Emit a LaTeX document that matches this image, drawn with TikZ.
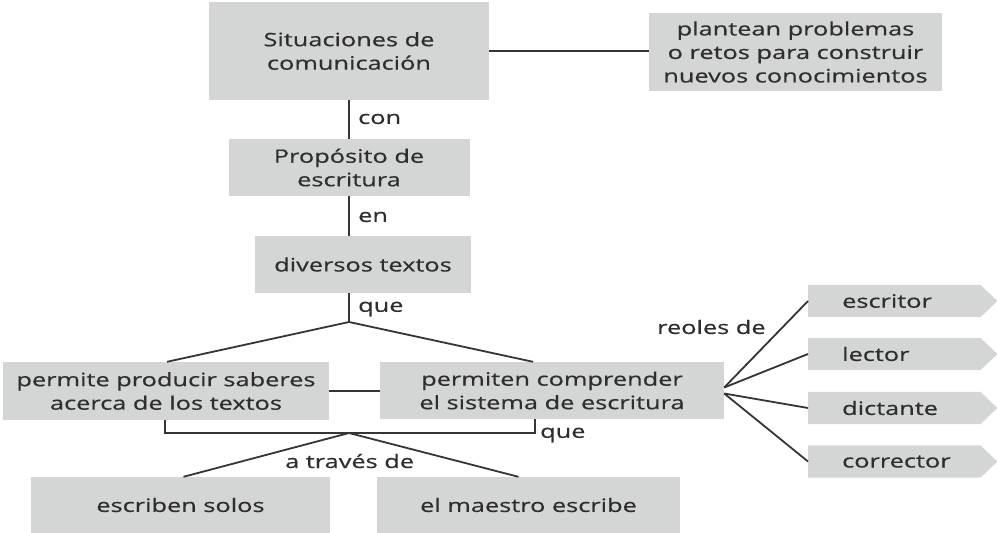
\documentclass[tikz,border=0pt]{standalone}
\usepackage{fontspec}
\setmainfont[FakeStretch=1.37,FakeBold=0.5]{Open Sans}
\usetikzlibrary{calc,backgrounds}
\definecolor{boxgray}{HTML}{D4D6D6}
\definecolor{ink}{HTML}{2E2E2E}
\definecolor{linec}{HTML}{353535}
\begin{document}
\begin{tikzpicture}[x=1pt,y=-1pt,
  txt/.style={font=\fontsize{18.5pt}{23.5pt}\selectfont, text=ink},
  box/.style={txt, fill=boxgray, inner sep=0pt, align=center},
  tag/.style={txt, inner sep=0pt, anchor=west},
  sig/.style={txt, inner sep=0pt, text width=172pt, align=left, minimum height=32pt},
  conn/.style={draw=linec, line width=1.8pt}]
\useasboundingbox (0,0) rectangle (997,533);
% boxes
\node[box, minimum width=280pt, minimum height=98pt] (b1) at (349,51) {Situaciones de\\comunicación};
\node[box, minimum width=293pt, minimum height=78pt] (pl) at (795.5,52) {plantean problemas\\o retos para construir\\nuevos conocimientos};
\node[box, minimum width=241pt, minimum height=57pt] (pr) at (349,167.5) {Propósito de\\escritura};
\node[box, minimum width=216pt, minimum height=57pt] (dv) at (363,264.5) {diversos textos};
\node[box, minimum width=326pt, minimum height=58pt] (lb) at (166,391) {permite producir saberes\\acerca de los textos};
\node[box, minimum width=344pt, minimum height=57pt] (rb) at (552,390.5) {permiten comprender\\el sistema de escritura};
\node[box, minimum width=299pt, minimum height=56pt] (es) at (180.5,505) {escriben solos};
\node[box, minimum width=303pt, minimum height=56pt] (ma) at (528.5,505) {el maestro escribe};
% signal boxes
\node[sig, anchor=west] (s1) at (808,301) {\hspace*{34pt}escritor};
\node[sig, anchor=west] (s2) at (808,354) {\hspace*{34pt}lector};
\node[sig, anchor=west] (s3) at (808,408) {\hspace*{34pt}dictante};
\node[sig, anchor=west] (s4) at (808,461.5) {\hspace*{34pt}corrector};
\begin{scope}[on background layer]
\foreach \s in {s1,s2,s3,s4}{
  \fill[boxgray] (\s.north west) -- (\s.north east) -- ($(\s.east)+(17,0)$) -- (\s.south east) -- (\s.south west) -- cycle;
}
\end{scope}
% junctions
\coordinate (j1) at (349,322);
\coordinate (j2) at (349,433);
% connectors
\draw[conn] (b1.east) -- (b1.east -| pl.west);
\draw[conn] (b1.south) -- (b1.south |- pr.north);
\draw[conn] (pr.south) -- (pr.south |- dv.north);
\draw[conn] (j1 |- dv.south) -- (j1);
\draw[conn] (j1) -- ($(lb.north)+(1,0)$);
\draw[conn] (j1) -- ($(rb.north)+(-19,0)$);
\draw[conn] (lb.east) -- (lb.east -| rb.west);
\draw[conn] ($(lb.south)+(-1,0)$) |- (j2) -| ($(rb.south)+(-17,0)$);
\draw[conn] (j2) -- ($(es.north)+(3,0)$);
\draw[conn] (j2) -- ($(ma.north)+(-10,0)$);
\draw[conn] ($(rb.east)+(0,-3)$) -- (s1.west);
\draw[conn] ($(rb.east)+(0,-3)$) -- (s2.west);
\draw[conn] ($(rb.east)+(0,3)$) -- (s3.west);
\draw[conn] ($(rb.east)+(0,3)$) -- (s4.west);
% labels
\node[tag] (lcon) at (358,119) {con};
\node[tag] (len) at (358,217) {en};
\node[tag] (lque1) at (358,309) {que};
\node[tag] (lque2) at (540,435) {que};
\node[tag] (latr) at (285,461) {a través de};
\node[tag] (lreo) at (657,327) {reoles de};
\end{tikzpicture}
\end{document}
